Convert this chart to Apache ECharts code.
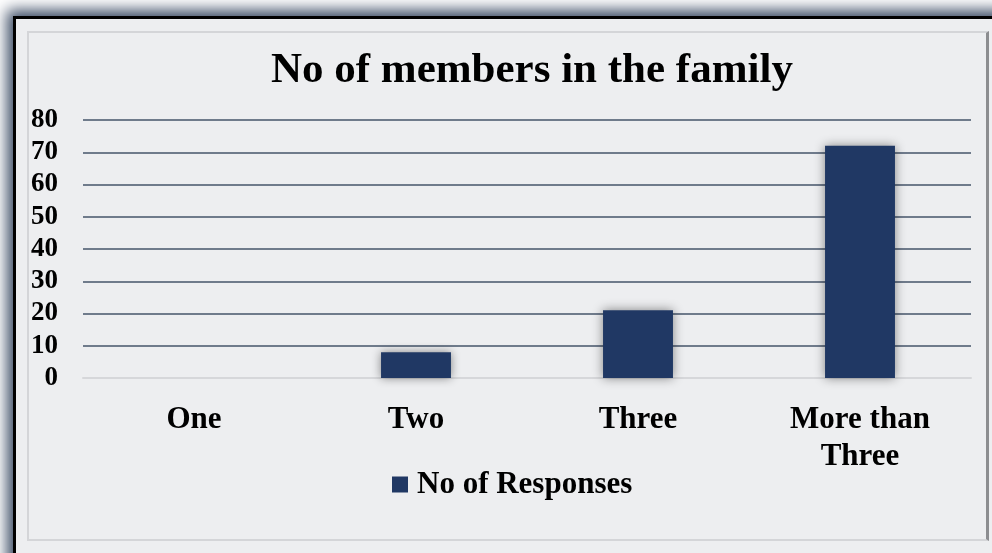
<!DOCTYPE html>
<html>
<head>
<meta charset="utf-8">
<script src="https://cdn.jsdelivr.net/npm/echarts@6/dist/echarts.min.js"></script>
<style>
  html, body { margin: 0; padding: 0; background: #ffffff; overflow: hidden; }
  #wrap { position: relative; width: 992px; height: 553px; overflow: hidden; }
  #frame {
    position: absolute; left: 13px; top: 16px; width: 1100px; height: 700px;
    background: #edeef0;
    border-left: 3px solid #000; border-top: 3px solid #000;
    box-shadow: 0 0 14px 6px #3a4a63;
  }
  #panel {
    position: absolute; left: 27px; top: 31px; width: 957px; height: 506px;
    border: 2px solid #d4d5d8; border-right: 3px solid #8c8d90;
  }
  #chart { position: absolute; left: 0; top: 0; width: 992px; height: 553px; }
</style>
</head>
<body>
<div id="wrap">
  <div id="frame"></div>
  <div id="panel"></div>
  <div id="chart"></div>
</div>
<script>
  const categories = ['One', 'Two', 'Three', 'More than\nThree']
  const responses = [0, 8, 21, 72]
  const yTicks = [0, 10, 20, 30, 40, 50, 60, 70, 80]

  const font = "'Liberation Serif', 'Times New Roman', serif"
  const chart = echarts.init(document.getElementById('chart'))

  const option = {
    backgroundColor: 'transparent',
    animation: false,
    title: {
      text: 'No of members in the family',
      left: 266,
      top: 44,
      textStyle: { fontFamily: font, fontWeight: 'bold', fontSize: 43, color: '#000' },
    },
    legend: {
      data: ['No of Responses'],
      left: 392,
      top: 469,
      padding: 0,
      icon: 'rect',
      itemWidth: 16,
      itemHeight: 16,
      textStyle: {
        fontFamily: font, fontWeight: 'bold', fontSize: 31, color: '#000',
        padding: [0, 0, 0, 4],
      },
    },
    // plot area
    grid: { left: 83, right: 21, top: 120, bottom: 175 },
    xAxis: {
      type: 'category',
      data: categories,
      axisTick: { show: false },
      axisLine: { show: true, lineStyle: { color: '#d6d7da', width: 2 } },
      axisLabel: {
        margin: 23,
        fontFamily: font, fontWeight: 'bold', fontSize: 31, color: '#000',
        lineHeight: 37,
      },
      z: 3,
    },
    yAxis: {
      type: 'value',
      min: yTicks[0],
      max: yTicks[yTicks.length - 1],
      interval: 10,
      axisLine: { show: false },
      axisTick: { show: false },
      axisLabel: {
        margin: 25,
        fontFamily: font, fontWeight: 'bold', fontSize: 27, color: '#000',
      },
      splitLine: { lineStyle: { color: '#44546a', width: 1.5 } },
    },
    series: [
      {
        name: 'No of Responses',
        type: 'bar',
        data: responses,
        barWidth: '31.5%',
        itemStyle: {
          color: '#203864',
          shadowColor: 'rgba(0, 0, 0, 0.45)',
          shadowBlur: 10,
        },
        z: 4,
      },
    ],
  }

  chart.setOption(option)
</script>
</body>
</html>
